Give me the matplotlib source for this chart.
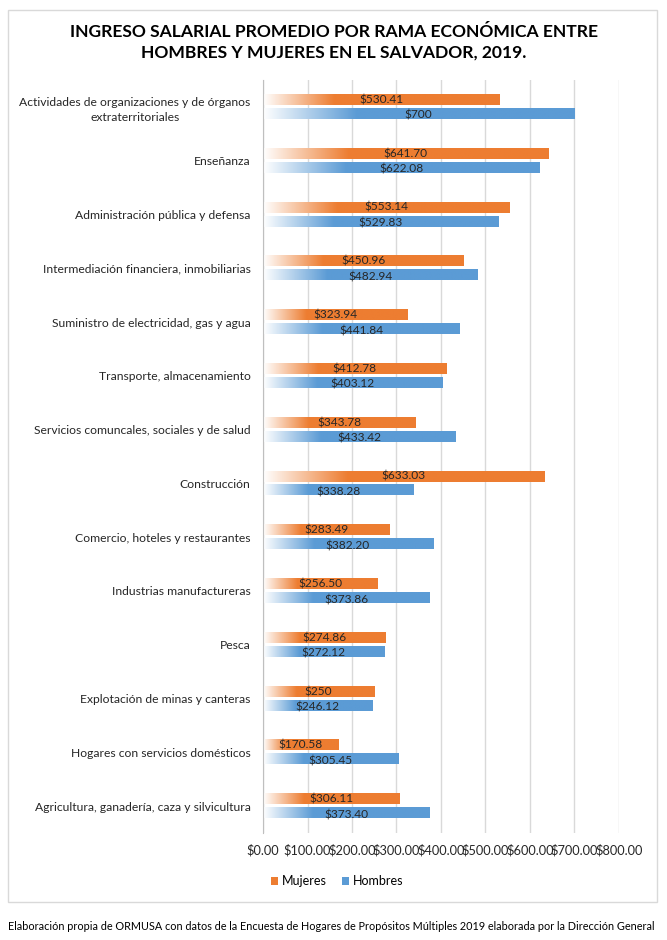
import numpy as np
import matplotlib.pyplot as plt
from matplotlib.colors import to_rgb
from matplotlib.patches import Patch, Rectangle

# Data
categorias = [
    "Actividades de organizaciones y de órganos\nextraterritoriales",
    "Enseñanza",
    "Administración pública y defensa",
    "Intermediación financiera, inmobiliarias",
    "Suministro de electricidad, gas y agua",
    "Transporte, almacenamiento",
    "Servicios comuncales, sociales y de salud",
    "Construcción",
    "Comercio, hoteles y restaurantes",
    "Industrias manufactureras",
    "Pesca",
    "Explotación de minas y canteras",
    "Hogares con servicios domésticos",
    "Agricultura, ganadería, caza y silvicultura",
]
mujeres = [530.41, 641.70, 553.14, 450.96, 323.94, 412.78, 343.78,
           633.03, 283.49, 256.50, 274.86, 250, 170.58, 306.11]
hombres = [700, 622.08, 529.83, 482.94, 441.84, 403.12, 433.42,
           338.28, 382.20, 373.86, 272.12, 246.12, 305.45, 373.40]
mujeres_lbl = ["$530.41", "$641.70", "$553.14", "$450.96", "$323.94", "$412.78", "$343.78",
               "$633.03", "$283.49", "$256.50", "$274.86", "$250", "$170.58", "$306.11"]
hombres_lbl = ["$700", "$622.08", "$529.83", "$482.94", "$441.84", "$403.12", "$433.42",
               "$338.28", "$382.20", "$373.86", "$272.12", "$246.12", "$305.45", "$373.40"]
ticks = [0, 100, 200, 300, 400, 500, 600, 700, 800]

col_m = "#ED7D31"
col_h = "#5B9BD5"

plt.rcParams['font.family'] = ['Lato', 'DejaVu Sans']

fig = plt.figure(figsize=(6.67, 9.40), dpi=100)

# outer chart frame
fig.patches.append(Rectangle((8 / 667, 1 - 902 / 940), 649 / 667, 892 / 940,
                             transform=fig.transFigure, fill=False,
                             edgecolor="#D9D9D9", linewidth=1))

fig.text(0.5, 1 - 32 / 940, "INGRESO SALARIAL PROMEDIO POR RAMA ECONÓMICA ENTRE",
         ha="center", va="center", fontsize=12.6, fontweight="bold")
fig.text(0.5, 1 - 53 / 940, "HOMBRES Y MUJERES EN EL SALVADOR, 2019.",
         ha="center", va="center", fontsize=12.6, fontweight="bold")

ax = fig.add_axes([263 / 667, 1 - 833 / 940, 356 / 667, 753 / 940])


def grad_bar(ax, y, value, h, color):
    # white -> colour gradient over the first part of the bar (Excel style fill)
    c = np.array(to_rgb(color))
    t = np.linspace(0, 1, 256)
    w = np.clip(t / 0.3, 0, 1)[:, None]
    img = (1 - w) * np.ones(3) + w * c
    ax.imshow(img[None, :, :], extent=(0, value, y + h / 2, y - h / 2),
              aspect="auto", interpolation="bilinear", zorder=2)


h = 0.19
off = 0.13
ys = np.arange(len(categorias))
for i, y in enumerate(ys):
    grad_bar(ax, y - off, mujeres[i], h, col_m)
    grad_bar(ax, y + off, hombres[i], h, col_h)
    ax.text(mujeres[i] / 2, y - off, mujeres_lbl[i], ha="center", va="center",
            fontsize=8.6, color="#262626", zorder=3)
    ax.text(hombres[i] / 2, y + off + 0.03, hombres_lbl[i], ha="center", va="center",
            fontsize=8.6, color="#262626", zorder=3)

ax.set_xlim(0, 800)
ax.set_ylim(len(categorias) - 0.5, -0.5)
ax.set_yticks(ys)
ax.set_yticklabels(categorias, fontsize=8.7, color="#262626", multialignment="center",
                   linespacing=1.5)
ax.set_xticks(ticks)
ax.set_xticklabels([f"${t:.2f}" for t in ticks], fontsize=9.2, color="#262626")
ax.tick_params(axis="y", length=0, pad=9)
ax.tick_params(axis="x", length=0, pad=8)
ax.grid(axis="x", color="#D9D9D9", linewidth=1, zorder=0)
ax.set_axisbelow(True)
for s in ["top", "right", "bottom"]:
    ax.spines[s].set_visible(False)
ax.spines["left"].set_color("#BFBFBF")

handles = [Patch(facecolor=col_m, label="Mujeres"), Patch(facecolor=col_h, label="Hombres")]
fig.legend(handles=handles, loc="center", bbox_to_anchor=(337 / 667, 1 - 881 / 940),
           ncol=2, frameon=False, fontsize=9, handlelength=0.6, handleheight=0.6,
           handletextpad=0.3, columnspacing=1.2)

fig.text(8 / 667, 1 - 927 / 940,
         "Elaboración propia de ORMUSA con datos de la Encuesta de Hogares de Propósitos Múltiples 2019 elaborada por la Dirección General",
         ha="left", va="center", fontsize=7.8, color="#000000")

fig.savefig("out.png", dpi=100)
